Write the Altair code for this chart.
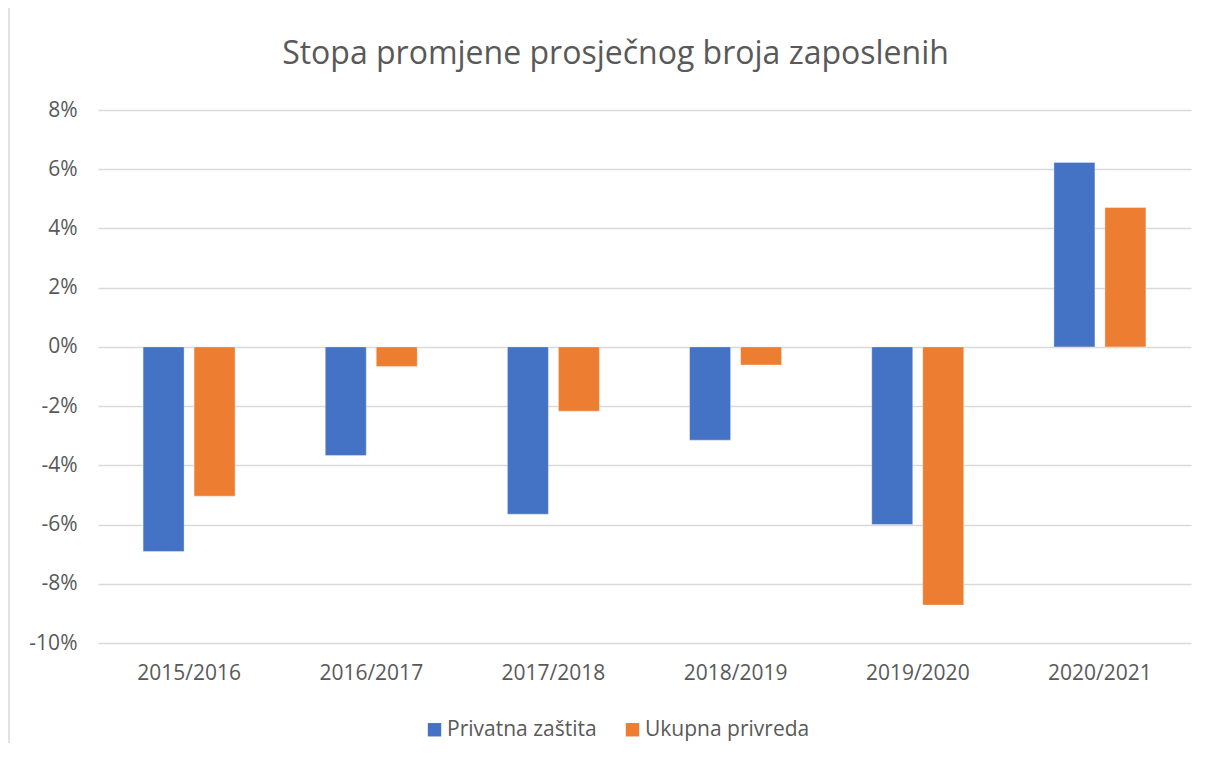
import altair as alt
import pandas as pd

categories = ["2015/2016", "2016/2017", "2017/2018", "2018/2019", "2019/2020", "2020/2021"]
series_names = ["Privatna zaštita", "Ukupna privreda"]
privatna = [-0.0691, -0.0367, -0.0565, -0.0315, -0.0600, 0.0623]
ukupna = [-0.0504, -0.0066, -0.0217, -0.0061, -0.0872, 0.0471]
colors = ["#4472C4", "#ED7D31"]
y_ticks = [-0.10, -0.08, -0.06, -0.04, -0.02, 0.0, 0.02, 0.04, 0.06, 0.08]

rows = []
for c, a, b in zip(categories, privatna, ukupna):
    rows.append({"period": c, "serija": series_names[0], "vrijednost": a})
    rows.append({"period": c, "serija": series_names[1], "vrijednost": b})
df = pd.DataFrame(rows)

FONT = "Open Sans"
GRAY = "#595959"

bars = alt.Chart(df).mark_bar(stroke="white", strokeWidth=0.6, strokeOpacity=0.6).encode(
    x=alt.X("period:N", sort=categories,
            scale=alt.Scale(paddingInner=0.495, paddingOuter=0.2475),
            axis=alt.Axis(title=None, labelAngle=0, domain=False, ticks=False, tickSize=0,
                          labelPadding=19, labelFontSize=21, labelColor=GRAY, labelFont=FONT,
                          grid=False)),
    xOffset=alt.XOffset("serija:N", sort=series_names,
                        scale=alt.Scale(paddingInner=0.196, paddingOuter=0)),
    y=alt.Y("vrijednost:Q",
            scale=alt.Scale(domain=[-0.10, 0.08], nice=False, zero=True),
            axis=alt.Axis(title=None, values=y_ticks, domain=False, ticks=False,
                          labelExpr="(datum.value < -0.0001 ? '-' : '') + format(abs(datum.value), '.0%')",
                          tickSize=0, labelPadding=21, labelFontSize=21, labelColor=GRAY,
                          labelFont=FONT, gridColor="#D9D9D9", gridWidth=1.5)),
    color=alt.Color("serija:N", sort=series_names,
                    scale=alt.Scale(domain=series_names, range=colors),
                    legend=alt.Legend(title=None, orient="none", direction="horizontal",
                                      legendX=326, legendY=609, symbolType="square",
                                      symbolSize=180, symbolStrokeWidth=0,
                                      labelFontSize=21, labelColor=GRAY, labelFont=FONT,
                                      labelLimit=400, labelOffset=2, columnPadding=25)),
)

border = alt.Chart(pd.DataFrame({"k": [0]})).mark_rule(color="#D9D9D9", strokeWidth=1.5, clip=False).encode(
    x=alt.value(-89), y=alt.value(-110), y2=alt.value(648)
)

chart = alt.layer(border, bars).properties(
    width=1093,
    height=533,
    title=alt.TitleParams("Stopa promjene prosječnog broja zaposlenih", font=FONT, fontSize=32,
                          fontWeight="normal", color=GRAY, anchor="middle", dx=-29, offset=0,
                          baseline="alphabetic", dy=97, limit=0),
    autosize=alt.AutoSizeParams(type="none"),
    padding={"left": 90, "top": 102, "right": 11, "bottom": 100},
).configure_view(stroke=None)

chart.save("out.html", embed_options={"renderer": "svg", "actions": False})
